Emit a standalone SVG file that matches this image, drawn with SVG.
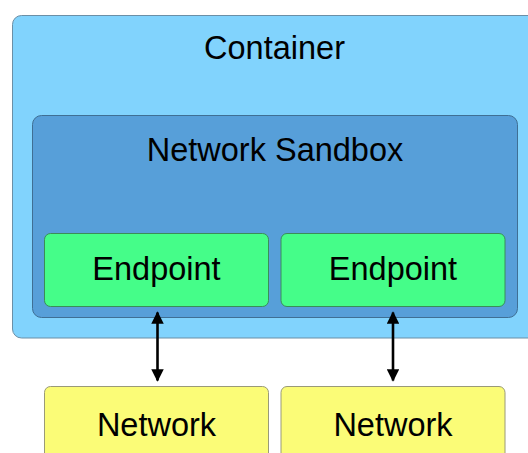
<svg xmlns="http://www.w3.org/2000/svg" width="528" height="453" viewBox="0 0 528 453">
  <style>
    .lbl { font-family: "Liberation Sans", Arial, sans-serif; font-size: 32.5px; fill: #000; text-anchor: middle; }
    .container { fill: #81d3fd; stroke: #6b8fa6; stroke-width: 1; }
    .sandbox { fill: #579fd9; stroke: #3f6f94; stroke-width: 1; }
    .endpoint { fill: #45fd89; stroke: #3b8d58; stroke-width: 1; }
    .network { fill: #fbfc77; stroke: #9a9a78; stroke-width: 1; }
    .link { stroke: #000; stroke-width: 2.6; fill: none; }
  </style>
  <defs>
    <marker id="head" viewBox="0 0 10 10" refX="9" refY="5" markerWidth="4.8" markerHeight="4.8" orient="auto-start-reverse">
      <path d="M0,0 L10,5 L0,10 Z" fill="#000"/>
    </marker>
  </defs>

  <g id="container">
    <rect class="container" x="12.5" y="15.5" width="530" height="322.5" rx="9"/>
    <text class="lbl" x="274.5" y="59">Container</text>
  </g>

  <g id="network-sandbox">
    <rect class="sandbox" x="32.5" y="115.5" width="485" height="202" rx="9"/>
    <text class="lbl" x="275" y="160.5">Network Sandbox</text>
  </g>

  <g id="endpoint-1">
    <rect class="endpoint" x="44.5" y="233.5" width="224" height="73" rx="6"/>
    <text class="lbl" x="156.5" y="280">Endpoint</text>
  </g>

  <g id="endpoint-2">
    <rect class="endpoint" x="281" y="233.5" width="224" height="73" rx="6"/>
    <text class="lbl" x="393" y="280">Endpoint</text>
  </g>

  <g id="network-1">
    <rect class="network" x="44.5" y="386.5" width="224" height="80" rx="6"/>
    <text class="lbl" x="156.5" y="436">Network</text>
  </g>

  <g id="network-2">
    <rect class="network" x="281" y="386.5" width="224" height="80" rx="6"/>
    <text class="lbl" x="393" y="436">Network</text>
  </g>

  <g id="connectors">
    <line class="link" x1="157.5" y1="312.5" x2="157.5" y2="380.5" marker-start="url(#head)" marker-end="url(#head)"/>
    <line class="link" x1="393" y1="312.5" x2="393" y2="380.5" marker-start="url(#head)" marker-end="url(#head)"/>
  </g>
</svg>
